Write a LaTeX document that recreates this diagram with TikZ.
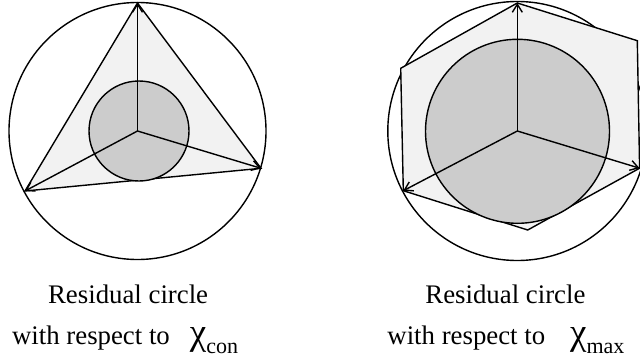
\documentclass[tikz,border=0pt]{standalone}
\usepackage{fontspec}
\setmainfont{Liberation Serif}
\usetikzlibrary{arrows.meta}
\newcommand{\chisub}[1]{{\fontsize{18.5}{20}\selectfont χ}\raisebox{-4.5pt}{\fontsize{11}{12}\selectfont #1}}
\tikzset{
  bigcirc/.style={draw=black, line width=0.7pt},
  polyshape/.style={draw=black, fill=black!5, line width=0.7pt},
  rescirc/.style={draw=black, fill=black!20, line width=0.7pt},
  vecarrow/.style={draw=black, line width=0.7pt, -{Straight Barb[length=4pt,width=5pt]}},
  caption/.style={anchor=base west, font=\fontsize{13.4}{16}\selectfont, inner sep=0pt}
}
\begin{document}
\begin{tikzpicture}[x=0.5pt,y=-0.5pt]
\useasboundingbox (0,0) rectangle (640,358);
\clip (0,0) rectangle (640,358);
% left figure
\coordinate (c1) at (137.5,131);
\coordinate (t1) at (137.5,3);
\coordinate (l1) at (25,191);
\coordinate (r1) at (261,168.3);
\draw[bigcirc] (c1) circle[radius=128.5];
\draw[polyshape] (t1) -- (r1) -- (l1) -- cycle;
\draw[rescirc] (139,131) circle[radius=50];
\draw[vecarrow] (c1) -- (t1);
\draw[vecarrow] (c1) -- (l1);
\draw[vecarrow] (c1) -- (r1);
% right figure
\coordinate (c2) at (517.3,131);
\coordinate (t2) at (517.3,3);
\coordinate (ur2) at (637.3,40.7);
\coordinate (r2) at (639.6,168.2);
\coordinate (b2) at (527.7,230);
\coordinate (l2) at (403.3,190.7);
\coordinate (ul2) at (400.7,68.3);
\draw[bigcirc] (c2) circle[radius=129.5];
\draw[polyshape] (t2) -- (ur2) -- (r2) -- (b2) -- (l2) -- (ul2) -- cycle;
\draw[rescirc] (517.5,131.3) circle[radius=92];
\draw[vecarrow] (c2) -- (t2);
\draw[vecarrow] (c2) -- (l2);
\draw[vecarrow] (c2) -- (r2);
% captions
\node[caption] (cap1a) at (47.7,303.3) {Residual circle};
\node[caption] (cap1b) at (11.7,344) {with respect to\hspace{10pt}\chisub{con}};
\node[caption] (cap2a) at (425,303.3) {Residual circle};
\node[caption] (cap2b) at (387,344) {with respect to\hspace{12.5pt}\chisub{max}};
\end{tikzpicture}
\end{document}
